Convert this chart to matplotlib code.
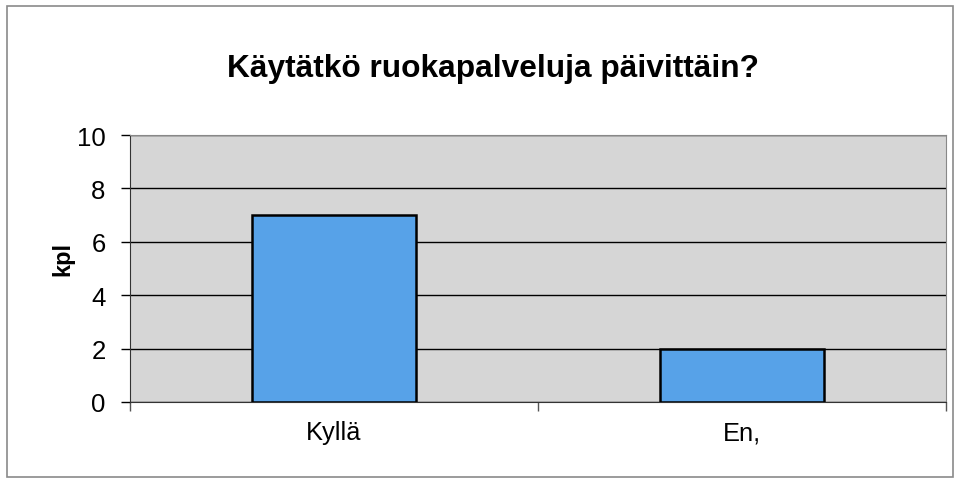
import numpy as np
import matplotlib.pyplot as plt
import matplotlib
from matplotlib.patches import Rectangle

matplotlib.rcParams['font.family'] = ['Liberation Sans', 'DejaVu Sans']

categories = ['Kyllä', 'En,']
values = [7, 2]
yticks = [0, 2, 4, 6, 8, 10]

fig = plt.figure(figsize=(9.62, 4.89), dpi=100)
ax = fig.add_axes([130/962, 1-403/489, 816/962, 267/489])

# outer chart frame
fig.patches.append(Rectangle((7/962, 1-478/489), 946/962, 471/489,
                             transform=fig.transFigure, fill=False,
                             edgecolor='#8a8a8a', lw=1.2))

x = np.arange(len(categories))
ax.set_facecolor('#d6d6d6')
ax.bar(x, values, width=0.4, color='#57a2e8', edgecolor='black', lw=1.8, zorder=3)

ax.set_xlim(-0.5, 1.5)
ax.set_ylim(0, 10)
ax.set_yticks(yticks)
ax.yaxis.grid(True, color='black', lw=1.0, zorder=1)
ax.set_axisbelow(True)

ax.set_xticks(x)
ax.set_xticklabels(categories, fontsize=18.3)
ax.set_xticks([-0.5, 0.5, 1.5], minor=True)
ax.tick_params(axis='x', which='major', length=0, pad=13)
ax.tick_params(axis='x', which='minor', length=6.5, width=1, color='#555555')
ax.tick_params(axis='y', labelsize=18.5, length=6.5, width=1, pad=11)

for s in ['left', 'bottom']:
    ax.spines[s].set_color('#333333')
for s in ['top', 'right']:
    ax.spines[s].set_color('#888888')

fig.text(63/962, 1-259/489, 'kpl', rotation=90, ha='center', va='center',
         fontsize=17, fontweight='bold')
fig.text(493/962, 1-77/489, 'Käytätkö ruokapalveluja päivittäin?', ha='center', va='baseline',
         fontsize=22.8, fontweight='bold')

plt.savefig('out.png', dpi=100)
